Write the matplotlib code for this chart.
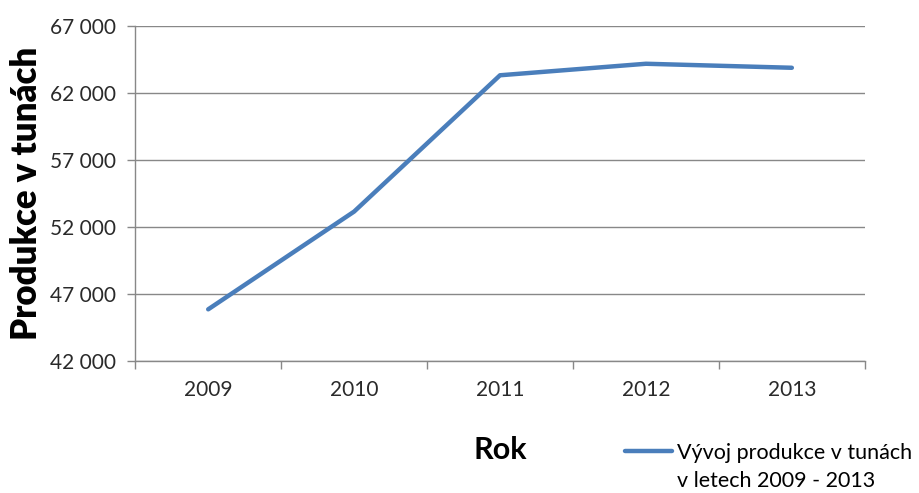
import numpy as np
import matplotlib
matplotlib.use("Agg")
from matplotlib import pyplot as plt
from matplotlib.lines import Line2D
from matplotlib.ticker import FuncFormatter

# Data
years = ['2009', '2010', '2011', '2012', '2013']
production = [45850, 53150, 63330, 64190, 63890]
y_ticks = [42000, 47000, 52000, 57000, 62000, 67000]
legend_lines = ['Vývoj produkce v tunách', 'v letech 2009 - 2013']

plt.rcParams['font.family'] = ['Lato', 'DejaVu Sans']

fig = plt.figure(figsize=(9.2, 4.93), dpi=100)
ax = fig.add_axes([0.147, 0.268, 0.793, 0.679])

x = np.arange(len(years))
line, = ax.plot(x, production, color='#4A7EBB', linewidth=3.2, solid_capstyle='round')

# Axes ranges and ticks
ax.set_xlim(-0.5, len(years) - 0.5)
ax.set_ylim(y_ticks[0], y_ticks[-1])
ax.set_yticks(y_ticks)
ax.yaxis.set_major_formatter(FuncFormatter(lambda v, p: '{:,.0f}'.format(v).replace(',', ' ')))
ax.set_xticks(x)
ax.set_xticklabels(years)
ax.set_xticks(np.arange(-0.5, len(years)), minor=True)

grey = '#888888'
ax.grid(axis='y', color=grey, linewidth=1)
ax.set_axisbelow(True)
for s in ['top', 'right']:
    ax.spines[s].set_visible(False)
for s in ['left', 'bottom']:
    ax.spines[s].set_color(grey)
    ax.spines[s].set_linewidth(1)

ax.tick_params(axis='y', colors=grey, length=6, width=1, labelsize=15,
               labelcolor='#2a2a2a', pad=8)
ax.tick_params(axis='x', which='major', length=0, labelsize=15,
               labelcolor='#2a2a2a', pad=14)
ax.tick_params(axis='x', which='minor', length=6, width=1, colors=grey)

ax.set_ylabel('Produkce v tunách', fontsize=25, fontweight='heavy', labelpad=5)
ax.set_xlabel('Rok', fontsize=22, fontweight='bold', labelpad=26)

# legend: handle next to the first line of the two-line label
blank = Line2D([], [], color='none')
ax.legend([line, blank], legend_lines, loc='upper left',
          bbox_to_anchor=(0.679, 0.102), bbox_transform=fig.transFigure,
          frameon=False, fontsize=15.5, handlelength=2.2, handletextpad=0.25,
          labelspacing=0.4, borderaxespad=0, borderpad=0)

fig.savefig('out.png', dpi=100)
